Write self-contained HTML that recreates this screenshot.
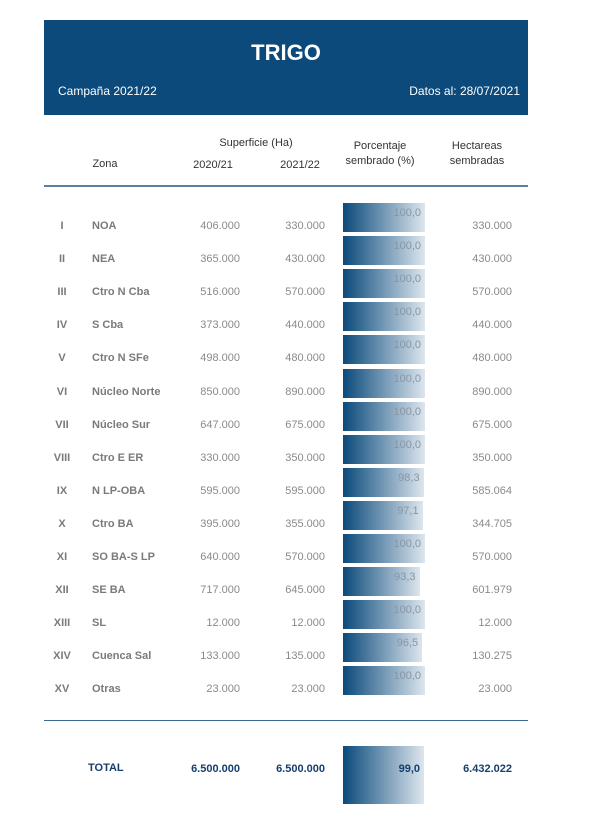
<!DOCTYPE html>
<html><head><meta charset="utf-8"><style>
body{margin:0;width:614px;height:818px;background:#fff;position:relative;font-family:"Liberation Sans",Arial,sans-serif;overflow:hidden}
.a{position:absolute;white-space:nowrap}
.hdr{left:44px;top:20px;width:484px;height:95px;background:#0b4a7b}
.w{color:#fff}
.h{font-size:11px;color:#333;text-align:center}
.r{font-size:11px;color:#7a7a7a;font-weight:bold}
.n{font-size:11px;color:#8a8a8a;text-align:right}
.bar{position:absolute;left:343px;height:29px;background:linear-gradient(to right,#0b4a7b,#dde6ee)}
.bv{position:absolute;right:4px;top:4px;font-size:11px;color:#8896a4}
.t{font-size:11px;font-weight:bold;color:#163f6e}
</style></head><body>
<div class="a hdr"></div>
<div class="a w" style="left:44px;width:484px;text-align:center;top:40px;font-size:22px;font-weight:bold">TRIGO</div>
<div class="a w" style="left:58px;top:84px;font-size:12px">Campaña 2021/22</div>
<div class="a w" style="right:94px;top:84px;font-size:12px">Datos al: 28/07/2021</div>

<div class="a h" style="left:206px;width:100px;top:137px">Superficie (Ha)</div>
<div class="a h" style="left:80px;width:50px;top:158px">Zona</div>
<div class="a h" style="left:183px;width:60px;top:159px">2020/21</div>
<div class="a h" style="left:270px;width:60px;top:159px">2021/22</div>
<div class="a h" style="left:330px;width:100px;top:140px">Porcentaje</div>
<div class="a h" style="left:330px;width:100px;top:155px">sembrado (%)</div>
<div class="a h" style="left:427px;width:100px;top:140px">Hectareas</div>
<div class="a h" style="left:427px;width:100px;top:155px">sembradas</div>
<div class="a" style="left:44px;top:185px;width:484px;height:2px;background:#5b7fa3"></div>

<div id="rows"></div>
<script>
const d=[["I","NOA","406.000","330.000","100,0","330.000"],["II","NEA","365.000","430.000","100,0","430.000"],["III","Ctro N Cba","516.000","570.000","100,0","570.000"],["IV","S Cba","373.000","440.000","100,0","440.000"],["V","Ctro N SFe","498.000","480.000","100,0","480.000"],["VI","Núcleo Norte","850.000","890.000","100,0","890.000"],["VII","Núcleo Sur","647.000","675.000","100,0","675.000"],["VIII","Ctro E ER","330.000","350.000","100,0","350.000"],["IX","N LP-OBA","595.000","595.000","98,3","585.064"],["X","Ctro BA","395.000","355.000","97,1","344.705"],["XI","SO BA-S LP","640.000","570.000","100,0","570.000"],["XII","SE BA","717.000","645.000","93,3","601.979"],["XIII","SL","12.000","12.000","100,0","12.000"],["XIV","Cuenca Sal","133.000","135.000","96,5","130.275"],["XV","Otras","23.000","23.000","100,0","23.000"]];
let h="";
d.forEach((r,i)=>{const y=220+i*33.1;const by=203+i*33.1;const w=82*parseFloat(r[4].replace(",","."))/100;
h+=`<div class="a r" style="left:37px;width:50px;text-align:center;top:${y}px">${r[0]}</div>
<div class="a r" style="left:92px;top:${y}px">${r[1]}</div>
<div class="a n" style="right:374px;top:${y}px">${r[2]}</div>
<div class="a n" style="right:289px;top:${y}px">${r[3]}</div>
<div class="bar" style="top:${by}px;width:${w}px"><span class="bv">${r[4]}</span></div>
<div class="a n" style="right:102px;top:${y}px">${r[5]}</div>`;});
document.getElementById("rows").innerHTML=h;
</script>
<div class="a" style="left:44px;top:720px;width:484px;height:1px;background:#3d6890"></div>
<div class="a t" style="left:88px;top:762px">TOTAL</div>
<div class="a t" style="right:374px;top:763px">6.500.000</div>
<div class="a t" style="right:289px;top:763px">6.500.000</div>
<div class="bar" style="top:746px;height:58px;width:81px"><span class="bv" style="top:17px;color:#163f6e;font-weight:bold">99,0</span></div>
<div class="a t" style="right:102px;top:763px">6.432.022</div>
</body></html>
